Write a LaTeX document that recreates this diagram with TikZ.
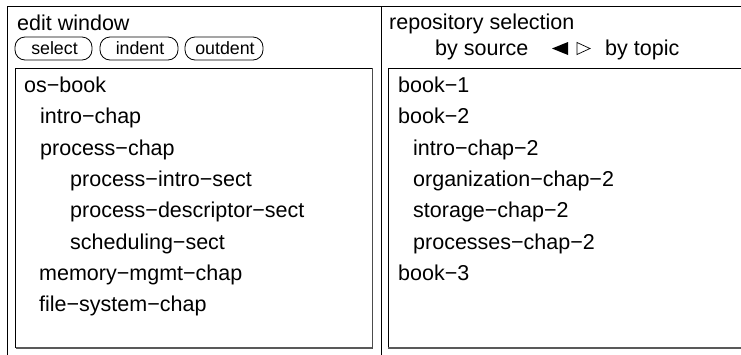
\documentclass[tikz,border=0pt]{standalone}
\usepackage{fontspec}
\setmainfont{Liberation Sans}
\begin{document}
\begin{tikzpicture}[x=1pt,y=-1pt,
  lbl/.style={anchor=base west,inner sep=0pt,font=\fontsize{21.5}{24}\selectfont},
  btn/.style={draw,rounded corners=10pt,minimum width=77pt,minimum height=23pt,inner sep=0pt,line width=0.8pt,font=\fontsize{17.8}{20}\selectfont},
  btntxt/.style={anchor=base,inner sep=0pt,font=\fontsize{17.8}{20}\selectfont},
  frame/.style={line width=1pt,black},
  bottomedge/.style={line width=1.6pt,gray!70!black}]
\useasboundingbox (0,0) rectangle (741,354);
\begin{scope}
\clip (0,0) rectangle (741,354);
% outer frame
\draw[frame] (7,360) -- (7,6) -- (750,6);
\draw[frame] (381,6) -- (381,360);
% inner boxes
\draw[frame] (372.7,68) -- (15.5,68) -- (15.5,348);
\draw[bottomedge] (15.5,348) -- (372.7,348);
\draw[line width=1pt,gray!60!black] (372.7,68) -- (372.7,348.8);
\draw[frame] (750,68) -- (388.3,68) -- (388.3,348);
\draw[bottomedge] (388.3,348) -- (750,348);
\end{scope}
% headers
\node[lbl] (ew) at (17,30) {edit window};
\node[lbl] (rs) at (389,29) {repository selection};
\node[lbl] (bs) at (435,55) {by source};
\fill (552,48.5) -- (568,42) -- (568,55) -- cycle;
\draw[line width=0.7pt,line join=miter] (577,42.5) -- (590,48.5) -- (577,54.5) -- cycle;
\node[lbl] (bt) at (605,55) {by topic};
% buttons
\node[btn,minimum width=77pt] (sel) at (53.5,48.5) {};
\node[btntxt] at (54.5,54) {select};
\node[btn,minimum width=78pt] (ind) at (139,48.5) {};
\node[btntxt] at (140,54) {indent};
\node[btn,minimum width=78pt] (out) at (224,48.5) {};
\node[btntxt] at (225,54) {outdent};
% left list
\node[lbl] (l1) at (24,92) {os−book};
\node[lbl] (l2) at (40,123.5) {intro−chap};
\node[lbl] (l3) at (40,155) {process−chap};
\node[lbl] (l4) at (70,186) {process−intro−sect};
\node[lbl] (l5) at (70,217.5) {process−descriptor−sect};
\node[lbl] (l6) at (70,249) {scheduling−sect};
\node[lbl] (l7) at (39,280) {memory−mgmt−chap};
\node[lbl] (l8) at (39,311.5) {file−system−chap};
% right list
\node[lbl] (r1) at (398,92) {book−1};
\node[lbl] (r2) at (398,123.5) {book−2};
\node[lbl] (r3) at (413,155) {intro−chap−2};
\node[lbl] (r4) at (413,186) {organization−chap−2};
\node[lbl] (r5) at (413,217.5) {storage−chap−2};
\node[lbl] (r6) at (413,249) {processes−chap−2};
\node[lbl] (r7) at (398,280) {book−3};
\end{tikzpicture}
\end{document}
